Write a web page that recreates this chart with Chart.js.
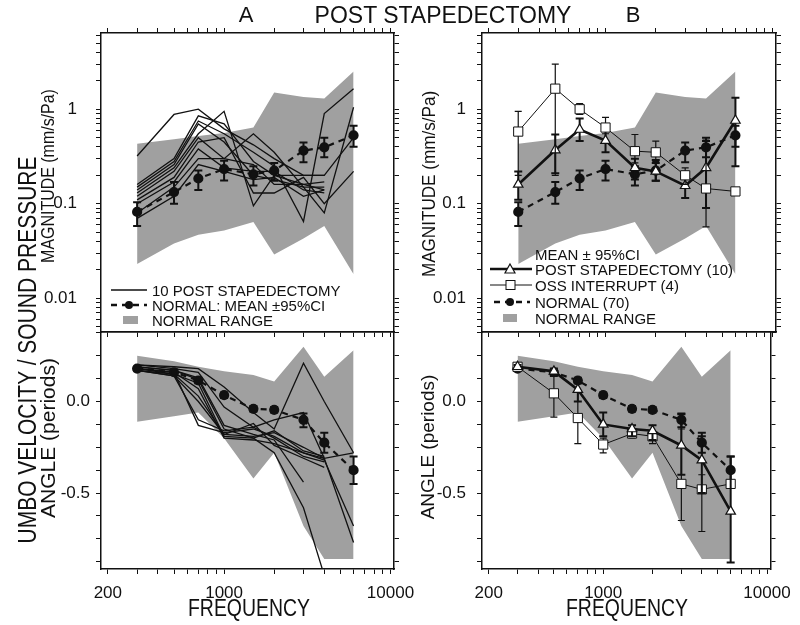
<!DOCTYPE html>
<html>
<head>
<meta charset="utf-8">
<script src="https://cdn.jsdelivr.net/npm/chart.js@4.4.0/dist/chart.umd.min.js"></script>
<style>
body { margin: 0; background: #fff; }
#wrap { position: relative; width: 800px; height: 625px; overflow: hidden; background: #fff;
        font-family: 'Liberation Sans', Arial, sans-serif; color: #111; }
canvas { position: absolute; left: 0; top: 0; }
.t { position: absolute; white-space: nowrap; line-height: 1; }
.c { transform: translate(-50%, -50%); }
.lg { position: absolute; white-space: nowrap; line-height: 1; font-size: 15px; transform: translateY(-50%); }
.sw { position: absolute; transform: translateY(-50%); }
</style>
</head>
<body>
<div id="wrap">
  <canvas id="cAT" width="800" height="625"></canvas>
  <canvas id="cAB" width="800" height="625"></canvas>
  <canvas id="cBT" width="800" height="625"></canvas>
  <canvas id="cBB" width="800" height="625"></canvas>

  <div class="t c" style="left:246px;top:15px;font-size:22px">A</div>
  <div class="t c" style="left:443px;top:15px;font-size:23px">POST STAPEDECTOMY</div>
  <div class="t c" style="left:633px;top:15px;font-size:22px">B</div>

  <div class="t" style="left:27px;top:350px;font-size:25px;transform:translate(-50%,-50%) rotate(-90deg) scaleX(0.84)">UMBO VELOCITY / SOUND PRESSURE</div>
  <div class="t" style="left:47px;top:176px;font-size:19px;transform:translate(-50%,-50%) rotate(-90deg) scaleX(0.84)">MAGNITUDE (mm/s/Pa)</div>
  <div class="t" style="left:47px;top:438px;font-size:21px;transform:translate(-50%,-50%) rotate(-90deg)">ANGLE (periods)</div>
  <div class="t" style="left:428px;top:184px;font-size:19px;transform:translate(-50%,-50%) rotate(-90deg) scaleX(0.9)">MAGNITUDE (mm/s/Pa)</div>
  <div class="t" style="left:427px;top:447px;font-size:19px;transform:translate(-50%,-50%) rotate(-90deg)">ANGLE (periods)</div>

  <div class="t" style="left:249px;top:608px;font-size:23px;transform:translate(-50%,-50%) scaleX(0.845)">FREQUENCY</div>
  <div class="t" style="left:627px;top:608px;font-size:23px;transform:translate(-50%,-50%) scaleX(0.845)">FREQUENCY</div>

  <!-- legend A -->
  <svg class="sw" style="left:111px;top:290px" width="36" height="10"><line x1="0" y1="5" x2="36" y2="5" stroke="#111" stroke-width="1.3"/></svg>
  <div class="lg" style="left:152px;top:290px">10 POST STAPEDECTOMY</div>
  <svg class="sw" style="left:111px;top:305px" width="36" height="10"><line x1="0" y1="5" x2="36" y2="5" stroke="#111" stroke-width="2.5" stroke-dasharray="6 5"/><circle cx="18" cy="5" r="4" fill="#111"/></svg>
  <div class="lg" style="left:152px;top:305px">NORMAL: MEAN ±95%CI</div>
  <svg class="sw" style="left:123px;top:320px" width="15" height="8"><rect x="0" y="0" width="15" height="8" fill="#a0a0a0"/></svg>
  <div class="lg" style="left:152px;top:320px">NORMAL RANGE</div>

  <!-- legend B -->
  <div class="lg" style="left:535px;top:254px">MEAN ± 95%CI</div>
  <svg class="sw" style="left:490px;top:269px" width="42" height="14"><line x1="0" y1="7" x2="42" y2="7" stroke="#111" stroke-width="2.5"/><polygon points="20,2 25,11 15,11" fill="#fff" stroke="#111" stroke-width="1.2"/></svg>
  <div class="lg" style="left:535px;top:269px">POST STAPEDECTOMY (10)</div>
  <svg class="sw" style="left:490px;top:285px" width="42" height="14"><line x1="0" y1="7" x2="42" y2="7" stroke="#111" stroke-width="1"/><rect x="16" y="2.5" width="9" height="9" fill="#fff" stroke="#111" stroke-width="1"/></svg>
  <div class="lg" style="left:535px;top:285px">OSS INTERRUPT (4)</div>
  <svg class="sw" style="left:494px;top:302px" width="36" height="10"><line x1="0" y1="5" x2="36" y2="5" stroke="#111" stroke-width="2.5" stroke-dasharray="6 5"/><circle cx="16" cy="5" r="4" fill="#111"/></svg>
  <div class="lg" style="left:535px;top:302px">NORMAL (70)</div>
  <svg class="sw" style="left:503px;top:318px" width="14" height="8"><rect x="0" y="0" width="14" height="8" fill="#a0a0a0"/></svg>
  <div class="lg" style="left:535px;top:318px">NORMAL RANGE</div>
</div>

<script>
// ---- data ----
const freqs = [300, 500, 700, 1000, 1500, 2000, 3000, 4000, 6000];

const xTickLabels = [200, 1000, 10000];
const magTickLabels = [0.01, 0.1, 1];
const angTickLabels = [0, -0.5];

// normal range band
const rangeMagHi = [0.43, 0.48, 0.52, 0.56, 0.64, 1.5, 1.35, 1.3, 2.5];
const rangeMagLo = [0.023, 0.038, 0.047, 0.052, 0.064, 0.029, 0.043, 0.058, 0.018];
const rangeAngHi = [0.25, 0.22, 0.19, 0.165, 0.145, 0.11, 0.30, 0.135, 0.28];
const rangeAngLo = [-0.11, -0.08, -0.06, -0.20, -0.42, -0.28, -0.68, -0.86, -0.86];

// normal (70) mean +- 95% CI
const normMag   = [0.082, 0.133, 0.185, 0.233, 0.205, 0.224, 0.365, 0.395, 0.53];
const normMagHi = [0.104, 0.17, 0.225, 0.285, 0.25, 0.27, 0.445, 0.5, 0.67];
const normMagLo = [0.058, 0.1, 0.14, 0.176, 0.156, 0.175, 0.275, 0.31, 0.4];
const normAng   = [0.18, 0.16, 0.115, 0.035, -0.04, -0.045, -0.10, -0.225, -0.375];
const normAngHi = [0.19, 0.175, 0.13, 0.05, -0.025, -0.03, -0.065, -0.17, -0.30];
const normAngLo = [0.17, 0.145, 0.10, 0.02, -0.055, -0.06, -0.14, -0.28, -0.45];

// 10 individual post-stapedectomy ears (panel A)
const earMag = [
  [0.32, 0.88, 1.0, 0.62, 0.42, 0.30, 0.20, 0.20, null],
  [0.16, 0.30, 0.85, 0.70, 0.28, 0.20, 0.16, 0.14, null],
  [0.15, 0.28, 0.75, 0.55, 0.35, 0.25, 0.065, 0.90, 1.65],
  [0.14, 0.26, 0.70, 0.45, 0.20, 0.18, 0.15, 0.08, 1.05],
  [0.13, 0.24, 0.55, 0.95, 0.095, 0.20, 0.20, 0.20, 0.50],
  [0.12, 0.22, 0.50, 0.30, 0.55, 0.35, 0.15, 0.15, null],
  [0.11, 0.19, 0.45, 0.50, 0.13, 0.13, 0.19, 0.10, 0.22],
  [0.10, 0.17, 0.38, 0.24, 0.22, 0.22, 0.14, 0.13, null],
  [0.08, 0.15, 0.30, 0.30, 0.26, 0.16, 0.16, 0.17, null],
  [0.07, 0.12, 0.26, 0.22, 0.18, 0.19, 0.12, 0.14, null]
];
const earAng = [
  [0.20, 0.19, 0.18, 0.08, -0.06, -0.15, 0.21, 0.00, -0.28],
  [0.20, 0.18, 0.16, -0.03, -0.14, -0.10, -0.06, -0.31, -0.77],
  [0.19, 0.17, 0.12, -0.15, -0.20, -0.28, -0.58, -0.95, null],
  [0.19, 0.17, 0.13, -0.13, -0.18, -0.21, -0.44, null, null],
  [0.18, 0.16, -0.13, -0.17, -0.15, -0.19, -0.28, -0.32, -0.68],
  [0.18, 0.15, 0.03, -0.18, -0.19, -0.17, -0.25, -0.31, -0.28],
  [0.18, 0.16, 0.07, -0.20, -0.21, -0.23, -0.28, -0.31, null],
  [0.17, 0.14, -0.10, -0.16, -0.14, -0.20, -0.30, -0.33, null],
  [0.17, 0.15, 0.10, -0.19, -0.20, -0.16, -0.27, -0.30, null],
  [0.17, 0.14, 0.00, -0.18, -0.12, -0.24, -0.31, -0.36, null]
];

// post stapedectomy (10) mean +- 95% CI (panel B)
const postMag   = [0.16, 0.37, 0.61, 0.465, 0.24, 0.22, 0.155, 0.24, 0.76];
const postMagHi = [0.22, 0.54, 0.80, 0.62, 0.30, 0.29, 0.195, 0.46, 1.32];
const postMagLo = [0.11, 0.21, 0.46, 0.35, 0.18, 0.175, 0.115, 0.09, 0.25];
const postAng   = [0.19, 0.165, 0.065, -0.125, -0.15, -0.16, -0.24, -0.32, -0.60];
const postAngHi = [0.20, 0.18, 0.10, -0.06, -0.13, -0.13, -0.07, -0.19, -0.30];
const postAngLo = [0.18, 0.14, 0.00, -0.19, -0.19, -0.21, -0.40, -0.50, -0.88];

// ossicular interruption (4) mean +- 95% CI (panel B)
const ossMag   = [0.58, 1.65, 1.0, 0.64, 0.36, 0.35, 0.20, 0.145, 0.135];
const ossMagHi = [0.95, 3.0, 1.15, 0.82, 0.54, 0.46, 0.24, 0.47, null];
const ossMagLo = [0.20, 0.20, 0.88, 0.55, 0.27, 0.28, 0.16, 0.057, null];
const ossAng   = [0.19, 0.045, -0.09, -0.235, -0.175, -0.19, -0.45, -0.48, -0.45];
const ossAngHi = [0.20, 0.15, 0.05, -0.20, -0.15, -0.16, -0.15, -0.40, null];
const ossAngLo = [0.18, -0.085, -0.23, -0.28, -0.20, -0.23, -0.65, -0.71, null];

// ---- axes ----
const xMin = 182, xMax = 10500;
const magMin = 0.0044, magMax = 6.4;
const angMin = -0.915, angMax = 0.38;
const INK = '#111';
const BAND = '#a0a0a0';
const tickFont = { family: "'Liberation Sans Narrow', 'Liberation Sans', Arial, sans-serif", size: 17 };

function logTicks(lo, hi) {
  const out = [];
  for (let e = -4; e <= 5; e++) {
    for (let m = 1; m <= 9; m++) {
      const v = parseFloat((m * Math.pow(10, e)).toPrecision(3));
      if (v >= lo && v <= hi) out.push(v);
    }
  }
  return out;
}
const near = (v, list) => list.find(l => Math.abs(v - l) <= Math.abs(l) * 1e-6 + 1e-9);

const pts = vals => freqs.map((f, i) => ({ x: f, y: vals[i] }));

// error bars through the chart's own scales
const errorBars = {
  id: 'errorBars',
  beforeDatasetDraw(chart, args) {
    const ds = chart.data.datasets[args.index];
    if (!ds.errHi) return;
    const { ctx, chartArea, scales } = chart;
    ctx.save();
    ctx.beginPath();
    ctx.rect(chartArea.left, chartArea.top, chartArea.width, chartArea.height);
    ctx.clip();
    ctx.setLineDash([]);
    ctx.strokeStyle = INK;
    ctx.lineWidth = ds.errWidth || 2;
    const cap = ds.errCap || 4;
    ds.data.forEach((p, i) => {
      const hi = ds.errHi[i], lo = ds.errLo[i];
      if (hi == null || lo == null) return;
      const x = scales.x.getPixelForValue(p.x);
      const y1 = scales.y.getPixelForValue(hi);
      const y2 = scales.y.getPixelForValue(lo);
      ctx.beginPath();
      ctx.moveTo(x, y1); ctx.lineTo(x, y2);
      ctx.moveTo(x - cap, y1); ctx.lineTo(x + cap, y1);
      ctx.moveTo(x - cap, y2); ctx.lineTo(x + cap, y2);
      ctx.stroke();
    });
    ctx.restore();
  }
};

function bandSets(hi, lo) {
  return [
    { data: pts(hi), borderWidth: 0, pointRadius: 0, backgroundColor: BAND, fill: '+1', tension: 0 },
    { data: pts(lo), borderWidth: 0, pointRadius: 0, backgroundColor: BAND, fill: false, tension: 0 }
  ];
}
function normalSet(vals, hi, lo) {
  return { data: pts(vals), borderColor: INK, borderWidth: 2.2, borderDash: [6, 5],
    pointStyle: 'circle', pointRadius: 4, pointBackgroundColor: INK, pointBorderColor: INK,
    errHi: hi, errLo: lo, errWidth: 2, errCap: 4 };
}
function postSet(vals, hi, lo) {
  return { data: pts(vals), borderColor: INK, borderWidth: 2.6,
    pointStyle: 'triangle', pointRadius: 5.5, pointBackgroundColor: '#fff', pointBorderColor: INK, pointBorderWidth: 1.2,
    errHi: hi, errLo: lo, errWidth: 2, errCap: 4 };
}
function ossSet(vals, hi, lo) {
  return { data: pts(vals), borderColor: INK, borderWidth: 1,
    pointStyle: 'rect', pointRadius: 6.5, pointBackgroundColor: '#fff', pointBorderColor: INK, pointBorderWidth: 1,
    errHi: hi, errLo: lo, errWidth: 1.2, errCap: 3.5 };
}
function earSets(list) {
  return list.map(v => ({ data: pts(v), borderColor: INK, borderWidth: 1.3, pointRadius: 0 }));
}

function makePanel(id, area, kind, showX, labelPad, datasets) {
  const isMag = kind === 'mag';
  const yTicks = isMag ? logTicks(magMin, magMax) : [-7, -6, -5, -4, -3, -2, -1, 0, 1, 2, 3].map(k => k * 0.125);
  const yLabels = isMag ? magTickLabels : angTickLabels;
  const xTicks = logTicks(xMin, xMax);
  const wL = 70, wR = 6, hT = isMag ? 6 : 1, hB = showX ? 40 : 6;
  const grid = { drawOnChartArea: false, drawTicks: true, tickLength: 5, color: INK, lineWidth: 1 };
  const border = { display: true, color: INK, width: 1.5 };
  const yBase = { type: isMag ? 'logarithmic' : 'linear', min: isMag ? magMin : angMin, max: isMag ? magMax : angMax };

  new Chart(document.getElementById(id), {
    type: 'line',
    data: { datasets },
    plugins: [errorBars],
    options: {
      responsive: false,
      animation: false,
      devicePixelRatio: 1,
      layout: { padding: { left: area.l - wL, right: 800 - area.r - wR, top: area.t - hT, bottom: 625 - area.b - hB } },
      plugins: { legend: { display: false }, tooltip: { enabled: false } },
      elements: { line: { tension: 0 } },
      scales: {
        x: {
          type: 'logarithmic', position: 'bottom', min: xMin, max: xMax,
          afterBuildTicks: s => { s.ticks = xTicks.map(v => ({ value: v })); },
          afterFit: s => { s.height = hB; },
          grid, border,
          ticks: { display: showX, autoSkip: false, maxRotation: 0, padding: 9, color: INK, font: tickFont,
            callback: v => (near(v, xTickLabels) ? String(near(v, xTickLabels)) : '') }
        },
        xt: {
          type: 'logarithmic', position: 'top', min: xMin, max: xMax,
          afterBuildTicks: s => { s.ticks = xTicks.map(v => ({ value: v })); },
          afterFit: s => { s.height = hT; },
          grid: Object.assign({}, grid, { drawTicks: isMag }), border,
          ticks: { display: false }
        },
        y: Object.assign({}, yBase, {
          position: 'left',
          afterBuildTicks: s => { s.ticks = yTicks.map(v => ({ value: v })); },
          afterFit: s => { s.width = wL; },
          grid, border,
          ticks: { autoSkip: false, padding: labelPad, color: INK, font: tickFont,
            callback: v => {
              const l = near(v, yLabels);
              if (l === undefined) return '';
              return isMag ? String(l) : l.toFixed(1);
            } }
        }),
        yr: Object.assign({}, yBase, {
          position: 'right',
          afterBuildTicks: s => { s.ticks = yTicks.map(v => ({ value: v })); },
          afterFit: s => { s.width = wR; },
          grid, border,
          ticks: { display: false }
        })
      }
    }
  });
}

const areaAT = { l: 101, t: 33, r: 394, b: 332 };
const areaAB = { l: 101, t: 332, r: 394, b: 569 };
const areaBT = { l: 482, t: 33, r: 776, b: 332 };
const areaBB = { l: 482, t: 332, r: 776, b: 569 };

makePanel('cAT', areaAT, 'mag', false, 19,
  [normalSet(normMag, normMagHi, normMagLo), ...earSets(earMag), ...bandSets(rangeMagHi, rangeMagLo)]);
makePanel('cAB', areaAB, 'ang', true, 6,
  [normalSet(normAng, normAngHi, normAngLo), ...earSets(earAng), ...bandSets(rangeAngHi, rangeAngLo)]);
makePanel('cBT', areaBT, 'mag', false, 11,
  [ossSet(ossMag, ossMagHi, ossMagLo), postSet(postMag, postMagHi, postMagLo),
   normalSet(normMag, normMagHi, normMagLo), ...bandSets(rangeMagHi, rangeMagLo)]);
makePanel('cBB', areaBB, 'ang', true, 11,
  [postSet(postAng, postAngHi, postAngLo), ossSet(ossAng, ossAngHi, ossAngLo),
   normalSet(normAng, normAngHi, normAngLo), ...bandSets(rangeAngHi, rangeAngLo)]);
</script>
</body>
</html>
